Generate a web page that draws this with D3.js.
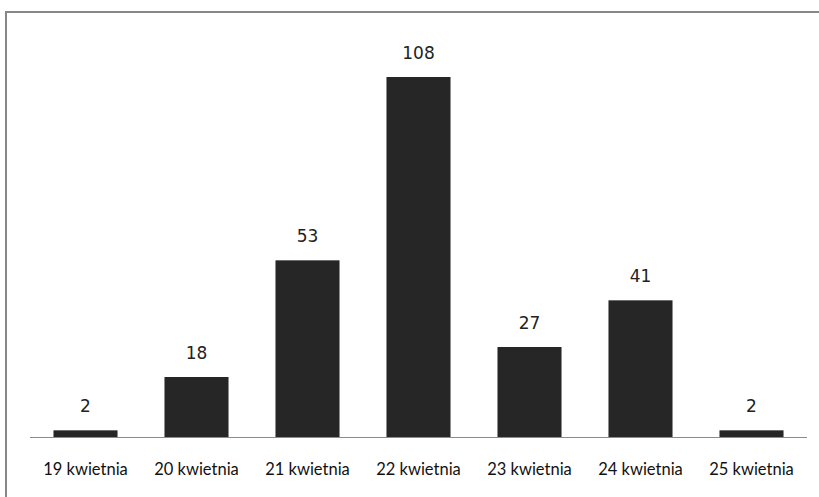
<!DOCTYPE html>
<html>
<head>
<meta charset="utf-8">
<script src="https://cdn.jsdelivr.net/npm/d3@7"></script>
<style>
  body { margin: 0; background: #fff; }
  svg { display: block; }
</style>
</head>
<body>
<div id="chart"></div>
<script>
// data
var categories = ["19 kwietnia", "20 kwietnia", "21 kwietnia", "22 kwietnia", "23 kwietnia", "24 kwietnia", "25 kwietnia"];
var values = [2, 18, 53, 108, 27, 41, 2];

var width = 819, height = 497;
var svg = d3.select("#chart")
  .append("svg")
  .attr("width", width)
  .attr("height", height);

// chart frame (runs off right and bottom edges)
svg.append("rect")
  .attr("x", 6)
  .attr("y", 12)
  .attr("width", 840)
  .attr("height", 520)
  .attr("fill", "none")
  .attr("stroke", "#878787")
  .attr("stroke-width", 2);

var x = d3.scaleBand()
  .domain(categories)
  .range([30, 807])
  .paddingInner(0.423)
  .paddingOuter(0.2115);

var y = d3.scaleLinear()
  .domain([0, 120])
  .range([437, 37]);

svg.selectAll("rect.bar")
  .data(values)
  .enter().append("rect")
  .attr("class", "bar")
  .attr("x", function (d, i) { return x(categories[i]); })
  .attr("y", function (d) { return y(d); })
  .attr("width", x.bandwidth())
  .attr("height", function (d) { return y(0) - y(d); })
  .attr("fill", "#262626");

// baseline
svg.append("line")
  .attr("x1", 30)
  .attr("x2", 807)
  .attr("y1", y(0) + 0.5)
  .attr("y2", y(0) + 0.5)
  .attr("stroke", "#8c8c8c")
  .attr("stroke-width", 1);

// value labels
svg.selectAll("text.val")
  .data(values)
  .enter().append("text")
  .attr("class", "val")
  .attr("x", function (d, i) { return x(categories[i]) + x.bandwidth() / 2; })
  .attr("y", function (d) { return y(d) - 18; })
  .attr("text-anchor", "middle")
  .attr("font-family", "'DejaVu Sans', sans-serif")
  .attr("font-size", "17px")
  .attr("fill", "#222")
  .text(function (d) { return d; });

// category labels
svg.selectAll("text.cat")
  .data(categories)
  .enter().append("text")
  .attr("class", "cat")
  .attr("x", function (d) { return x(d) + x.bandwidth() / 2; })
  .attr("y", 475)
  .attr("text-anchor", "middle")
  .attr("font-family", "Lato, 'Open Sans', sans-serif")
  .attr("font-size", "16.5px")
  .attr("fill", "#111")
  .text(function (d) { return d; });
</script>
</body>
</html>
